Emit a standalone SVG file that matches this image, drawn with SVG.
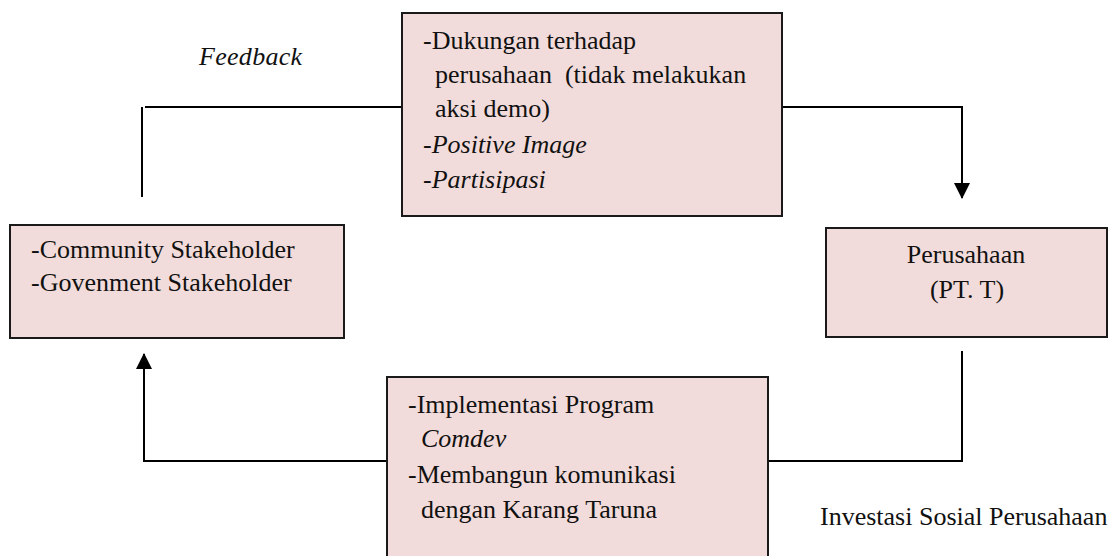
<svg xmlns="http://www.w3.org/2000/svg" width="1112" height="556" viewBox="0 0 1112 556">
<style>
.box{fill:#F2DCDB;stroke:#1a1a1a;stroke-width:2}
.t{font-family:"Liberation Serif","Times New Roman",serif;font-size:26px;fill:#111;white-space:pre}
.i{font-style:italic}
.c{fill:none;stroke:#000;stroke-width:2}
</style>
<defs>
<marker id="arr" markerUnits="userSpaceOnUse" markerWidth="16" markerHeight="16" viewBox="0 0 16 16" refX="15" refY="8" orient="auto">
<path d="M0,0 L16,8 L0,16 z" fill="#000"/>
</marker>
</defs>
<g id="connectors">
<polyline class="c" points="142,197 142,107"/>
<polyline class="c" points="145,107 402,107"/>
<polyline class="c" points="782,107 962,107 962,198" marker-end="url(#arr)"/>
<polyline class="c" points="962,351 962,461 768,461"/>
<polyline class="c" points="387,461 144,461 144,354" marker-end="url(#arr)"/>
</g>
<g id="label-feedback">
<text class="t i" x="199" y="65" letter-spacing="0.3">Feedback</text>
</g>
<g id="node-top">
<rect class="box" x="402" y="13" width="380" height="203"/>
<text class="t" x="423" y="49">-Dukungan terhadap</text>
<text class="t" x="435" y="83">perusahaan  (tidak melakukan</text>
<text class="t" x="435" y="117">aksi demo)</text>
<text class="t" x="423" y="153">-<tspan class="i">Positive Image</tspan></text>
<text class="t" x="423" y="188">-<tspan class="i">Partisipasi</tspan></text>
</g>
<g id="node-left">
<rect class="box" x="10" y="225" width="334" height="113"/>
<text class="t" x="31" y="258">-Community Stakeholder</text>
<text class="t" x="31" y="291">-Govenment Stakeholder</text>
</g>
<g id="node-right">
<rect class="box" x="826" y="228" width="281" height="109"/>
<text class="t" x="966" y="263" text-anchor="middle">Perusahaan</text>
<text class="t" x="967" y="298" text-anchor="middle">(PT. T)</text>
</g>
<g id="node-bottom">
<rect class="box" x="387" y="377" width="381" height="200"/>
<text class="t" x="408" y="413">-Implementasi Program</text>
<text class="t i" x="421" y="447">Comdev</text>
<text class="t" x="408" y="483">-Membangun komunikasi</text>
<text class="t" x="421" y="518">dengan Karang Taruna</text>
</g>
<g id="label-investasi">
<text class="t" x="820" y="525">Investasi Sosial Perusahaan</text>
</g>
</svg>
